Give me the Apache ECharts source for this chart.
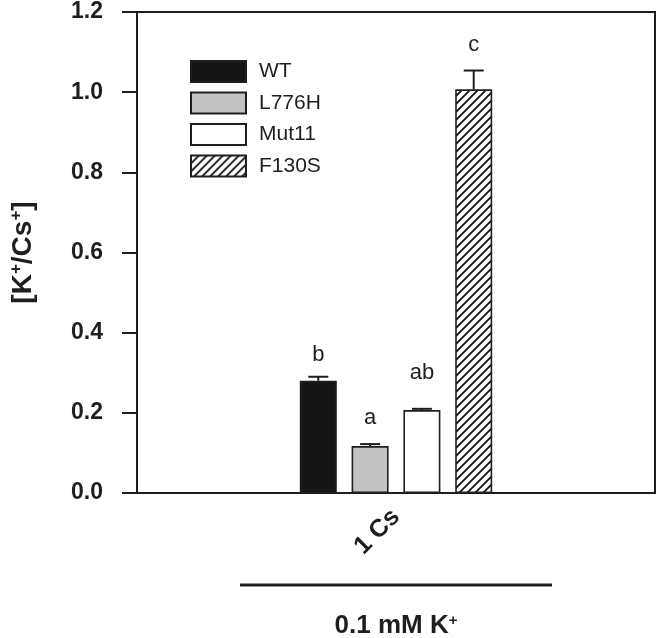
<!DOCTYPE html>
<html><head><meta charset="utf-8">
<script src="https://cdn.jsdelivr.net/npm/echarts@6/dist/echarts.min.js"></script>
<style>html,body{margin:0;padding:0;background:#fff}#c{width:661px;height:638px}</style>
</head><body><div id="c"></div>
<script>
// ---------- data ----------
const categories = ['1 Cs'];
const seriesNames = ['WT', 'L776H', 'Mut11', 'F130S'];
const means = [0.280, 0.117, 0.207, 1.007];
const errors = [0.010, 0.005, 0.003, 0.047];
const letters = ['b', 'a', 'ab', 'c'];
const yMin = 0, yMax = 1.2, yStep = 0.2;

// ---------- style ----------
const FONT = '"Liberation Sans", Arial, sans-serif';
const INK = '#1e1e1e';
const BAR_W = 37, BAR_GAP = 0.4;
const letterGap = [11, 15, 25, 15];

function hatch() {
  const s = 8, c = document.createElement('canvas');
  c.width = s; c.height = s;
  const g = c.getContext('2d');
  g.fillStyle = '#fff'; g.fillRect(0, 0, s, s);
  g.strokeStyle = '#111'; g.lineWidth = 1.8;
  g.beginPath();
  g.moveTo(-1, s + 1); g.lineTo(s + 1, -1);
  g.moveTo(-1, 1); g.lineTo(1, -1);
  g.moveTo(s - 1, s + 1); g.lineTo(s + 1, s - 1);
  g.stroke();
  return { image: c, repeat: 'repeat' };
}
const fills = ['#161616', '#c2c2c2', '#ffffff', hatch()];

const chart = echarts.init(document.getElementById('c'), null, { renderer: 'canvas' });

const barSeries = seriesNames.map((n, i) => ({
  type: 'bar', name: n, data: [means[i]],
  barWidth: BAR_W, barGap: (BAR_GAP * 100) + '%',
  itemStyle: { color: fills[i], borderColor: INK, borderWidth: 1.6 },
  emphasis: { disabled: true }
}));

const errSeries = {
  type: 'custom', name: 'err', z: 10,
  data: means.map((m, i) => [0, m, m + errors[i], i]),
  encode: { x: 0, y: 1 },
  renderItem: (params, api) => {
    const idx = api.value(3);
    const base = api.coord([api.value(0), api.value(1)]);
    const top = api.coord([api.value(0), api.value(2)]);
    const spacing = BAR_W * (1 + BAR_GAP);
    const x = base[0] + (idx - (seriesNames.length - 1) / 2) * spacing;
    return {
      type: 'group', children: [
        { type: 'line', shape: { x1: x, y1: base[1], x2: x, y2: top[1] }, style: { stroke: INK, lineWidth: 2 } },
        { type: 'line', shape: { x1: x - 10, y1: top[1], x2: x + 10, y2: top[1] }, style: { stroke: INK, lineWidth: 2 } },
        { type: 'text', x: x, y: top[1] - letterGap[idx],
          style: { text: letters[idx], align: 'center', verticalAlign: 'bottom', font: '22px ' + FONT, fill: INK } }
      ]
    };
  }
};

chart.setOption({
  animation: false,
  backgroundColor: '#fff',
  grid: { left: 137, right: 6, top: 12, bottom: 145, outerBoundsMode: 'none', containLabel: false,
    show: true, borderColor: INK, borderWidth: 2, backgroundColor: 'transparent' },
  legend: {
    data: seriesNames, orient: 'vertical', left: 190, top: 60, padding: 0,
    itemWidth: 55, itemHeight: 21, itemGap: 8.5, icon: 'rect',
    textStyle: { fontFamily: FONT, fontSize: 21, color: INK, padding: [0, 0, 0, 8] },
    selectedMode: false
  },
  xAxis: {
    type: 'category', data: categories,
    axisLine: { lineStyle: { color: INK, width: 2 } },
    axisTick: { alignWithLabel: true, length: 7, lineStyle: { color: INK, width: 2 } },
    axisLabel: { rotate: 45, margin: 20, fontFamily: FONT, fontWeight: 'bold', fontSize: 25, color: INK },
    name: '0.1 mM K{s|+}', nameLocation: 'middle', nameGap: 120,
    nameTextStyle: { fontFamily: FONT, fontWeight: 'bold', fontSize: 26, color: INK,
      rich: { s: { fontFamily: FONT, fontWeight: 'bold', fontSize: 15, color: INK, verticalAlign: 'top', padding: [0, 0, 10, 0] } } }
  },
  yAxis: {
    type: 'value', min: yMin, max: yMax, interval: yStep,
    splitLine: { show: false },
    axisLine: { show: true, lineStyle: { color: INK, width: 2 } },
    axisTick: { show: true, length: 15, lineStyle: { color: INK, width: 2 } },
    axisLabel: { margin: 34, fontFamily: FONT, fontWeight: 'bold', fontSize: 23, color: INK, formatter: v => v.toFixed(1) },
    name: '{b|[K}{s|+}{b|/Cs}{s|+}{b|]}', nameLocation: 'middle', nameGap: 100, nameRotate: 90,
    nameTextStyle: {
      rich: {
        b: { fontFamily: FONT, fontWeight: 'bold', fontSize: 28, color: INK, verticalAlign: 'bottom' },
        s: { fontFamily: FONT, fontWeight: 'bold', fontSize: 17, color: INK, verticalAlign: 'top', padding: [0, 0, 12, 0] }
      }
    }
  },
  graphic: [
    { type: 'line', shape: { x1: 240, y1: 585, x2: 552, y2: 585 }, style: { stroke: INK, lineWidth: 3 } }
  ],
  series: [...barSeries, errSeries]
});
</script></body></html>
